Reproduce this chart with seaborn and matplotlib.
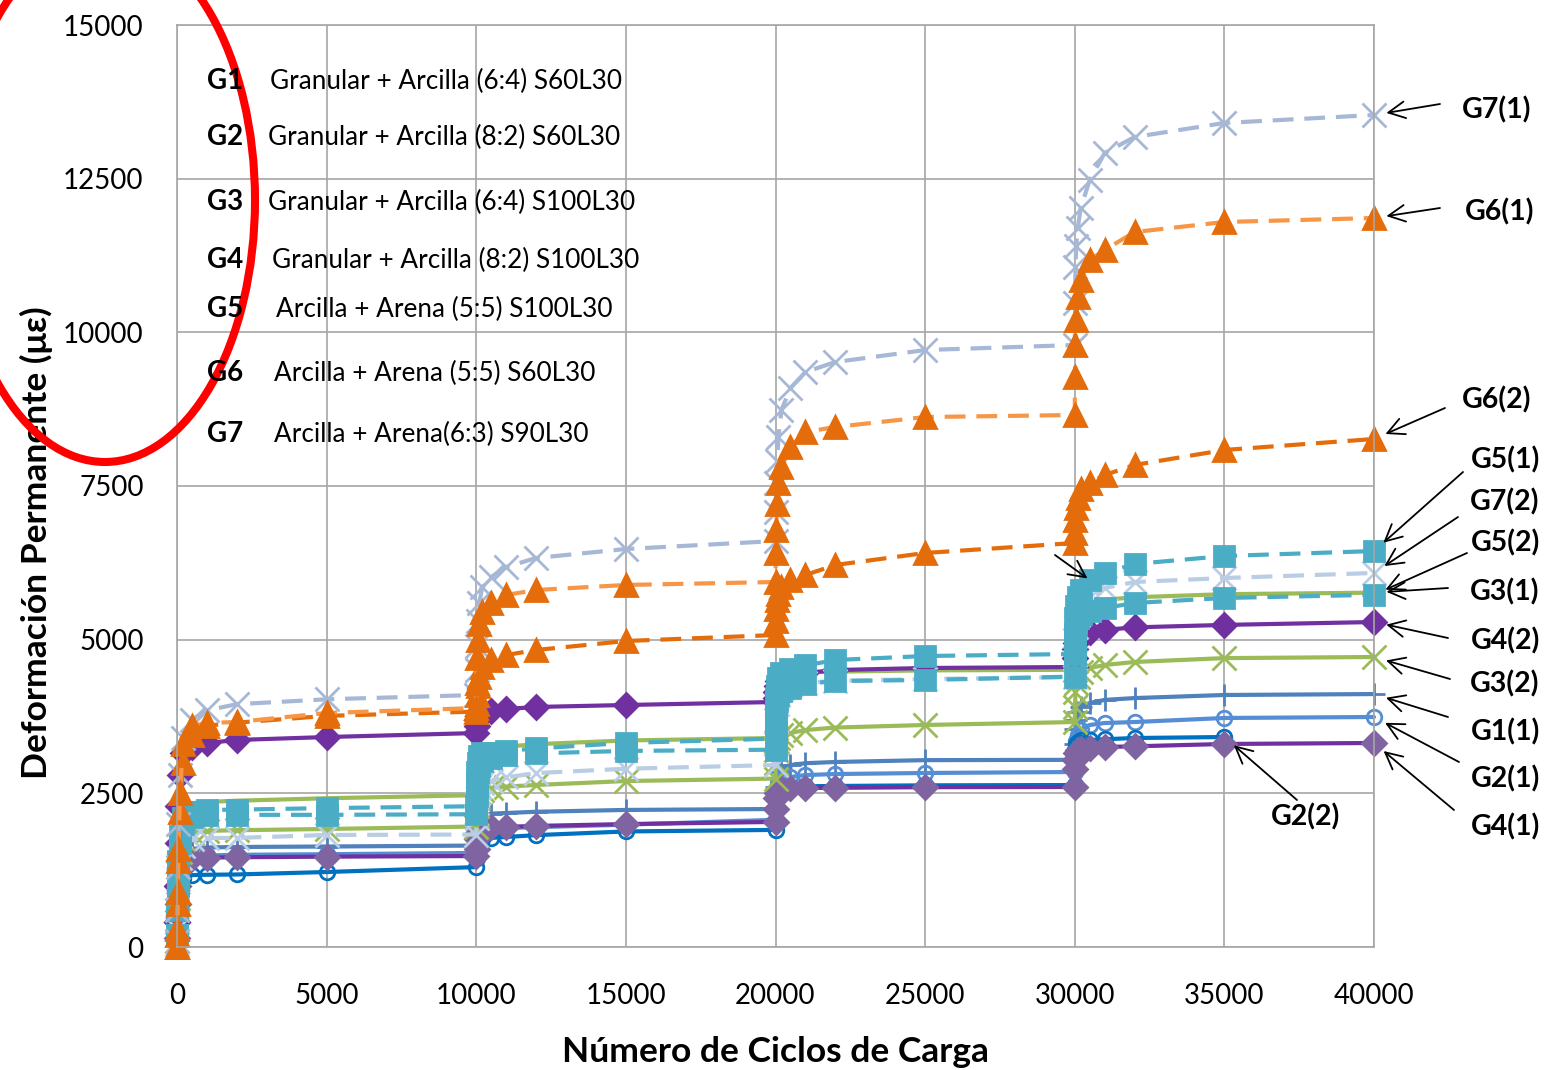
import numpy as np
import pandas as pd
import matplotlib
matplotlib.use("Agg")
import matplotlib.pyplot as plt
import seaborn as sns
from matplotlib.patches import Ellipse

nan = np.nan

# Load cycles at which each reading was taken (four stages of 10000 cycles)
cycles = [1, 10, 25, 50, 100, 200, 500, 1000, 2000, 5000, 10000,
          10010, 10025, 10050, 10100, 10200, 10500, 11000, 12000, 15000, 20000,
          20010, 20025, 20050, 20100, 20200, 20500, 21000, 22000, 25000, 30000,
          30010, 30025, 30050, 30100, 30200, 30500, 31000, 32000, 35000, 40000]

# Permanent deformation (microstrain) per test
g1_1 = [300, 700, 1000, 1250, 1420, 1530, 1590, 1620, 1627, 1635, 1650,
        1750, 1880, 1980, 2060, 2130, 2170, 2180, 2200, 2230, 2245,
        2400, 2600, 2750, 2850, 2920, 2960, 2990, 3010, 3040, 3045,
        3300, 3550, 3700, 3820, 3900, 3970, 4020, 4050, 4100, 4115]
g2_1 = [200, 500, 800, 1050, 1250, 1400, 1460, 1490, 1500, 1510, 1530,
        1620, 1720, 1800, 1860, 1900, 1920, 1935, 1950, 1990, 2070,
        2250, 2450, 2580, 2670, 2720, 2766, 2798, 2814, 2831, 2847,
        3000, 3200, 3350, 3450, 3530, 3612, 3644, 3660, 3726, 3742]
g2_2 = [100, 300, 550, 800, 1000, 1120, 1170, 1175, 1180, 1220, 1300,
        1450, 1600, 1680, 1730, 1760, 1775, 1790, 1820, 1880, 1905,
        2250, 2450, 2530, 2580, 2600, 2610, 2615, 2620, 2630, 2635,
        3000, 3200, 3300, 3340, 3360, 3368, 3380, 3400, 3416, nan]
g3_1 = [300, 800, 1300, 1800, 2150, 2300, 2340, 2360, 2380, 2420, 2470,
        2700, 2950, 3080, 3150, 3200, 3230, 3260, 3300, 3360, 3400,
        3900, 4200, 4330, 4400, 4430, 4450, 4470, 4480, 4500, 4510,
        5000, 5300, 5450, 5530, 5570, 5600, 5650, 5690, 5740, 5765]
g3_2 = [100, 400, 800, 1200, 1550, 1750, 1860, 1890, 1900, 1920, 1960,
        2150, 2300, 2420, 2500, 2560, 2590, 2610, 2636, 2700, 2740,
        3000, 3200, 3330, 3400, 3450, 3481, 3530, 3570, 3612, 3660,
        3900, 4150, 4300, 4400, 4480, 4539, 4588, 4637, 4700, 4718]
g4_1 = [150, 400, 700, 1000, 1250, 1380, 1440, 1455, 1460, 1470, 1480,
        1600, 1750, 1850, 1900, 1930, 1945, 1955, 1970, 2000, 2035,
        2250, 2420, 2500, 2550, 2570, 2580, 2587, 2590, 2600, 2603,
        2900, 3050, 3150, 3200, 3225, 3238, 3254, 3265, 3303, 3319]
g4_2 = [400, 1000, 1700, 2300, 2800, 3150, 3254, 3319, 3368, 3416, 3481,
        3600, 3700, 3760, 3800, 3820, 3840, 3872, 3905, 3937, 3986,
        4050, 4150, 4250, 4320, 4380, 4425, 4457, 4506, 4539, 4555,
        4700, 4850, 4950, 5020, 5080, 5130, 5160, 5200, 5240, 5287]
g5_1 = [200, 600, 1000, 1400, 1800, 2100, 2200, 2229, 2235, 2260, 2290,
        2600, 2850, 3000, 3100, 3150, 3150, 3190, 3230, 3320, 3390,
        3700, 4050, 4250, 4380, 4450, 4520, 4580, 4669, 4734, 4767,
        5000, 5350, 5550, 5700, 5800, 5970, 6085, 6231, 6361, 6442]
g5_2 = [200, 600, 1000, 1350, 1700, 2000, 2120, 2140, 2150, 2150, 2160,
        2450, 2700, 2850, 2950, 3020, 3080, 3120, 3150, 3190, 3210,
        3500, 3800, 4000, 4100, 4170, 4220, 4280, 4327, 4344, 4400,
        4800, 5100, 5250, 5350, 5420, 5470, 5515, 5597, 5678, 5730]
g6_1 = [0, 300, 900, 1600, 2500, 3300, 3600, 3644, 3661, 3807, 3888,
        4300, 4700, 5000, 5250, 5450, 5597, 5727, 5808, 5890, 5938,
        6410, 6784, 7200, 7550, 7809, 8134, 8379, 8460, 8622, 8655,
        9273, 9800, 10200, 10575, 10851, 11177, 11340, 11632, 11795, 11860]
g6_2 = [0, 200, 700, 1400, 2200, 3000, 3450, 3600, 3650, 3760, 3830,
        3950, 4100, 4250, 4400, 4550, 4669, 4750, 4832, 4978, 5076,
        5300, 5500, 5650, 5750, 5850, 5971, 6052, 6215, 6410, 6573,
        6735, 6950, 7150, 7300, 7450, 7549, 7679, 7842, 8086, 8265]
g7_1 = [100, 600, 1300, 2000, 2800, 3400, 3700, 3850, 3950, 4030, 4100,
        4500, 4900, 5300, 5600, 5850, 6020, 6182, 6329, 6475, 6605,
        7077, 7549, 7900, 8300, 8736, 9094, 9354, 9517, 9712, 9794,
        10477, 11063, 11400, 11700, 12023, 12478, 12917, 13178, 13406, 13536]
g7_2 = [50, 300, 700, 1100, 1450, 1650, 1750, 1773, 1775, 1822, 1830,
        2100, 2350, 2500, 2600, 2660, 2700, 2760, 2830, 2900, 2961,
        3300, 3700, 3950, 4100, 4200, 4260, 4300, 4330, 4360, 4390,
        4700, 5000, 5200, 5400, 5550, 5694, 5841, 5938, 6003, 6085]

group_codes = ["G1", "G2", "G3", "G4", "G5", "G6", "G7"]
group_desc = ["Granular + Arcilla (6:4) S60L30",
              "Granular + Arcilla (8:2) S60L30",
              "Granular + Arcilla (6:4) S100L30",
              "Granular + Arcilla (8:2) S100L30",
              "Arcilla + Arena (5:5) S100L30",
              "Arcilla + Arena (5:5) S60L30",
              "Arcilla + Arena(6:3) S90L30"]

W, H = 1546, 1070
sns.set_theme(style="whitegrid")
plt.rcParams["font.family"] = ["Lato", "DejaVu Sans"]

fig = plt.figure(figsize=(W / 100, H / 100), dpi=100)
ax = fig.add_axes([177 / W, 1 - 947 / H, (1374 - 177) / W, (947 - 25) / H])

DASH = (0, (5, 2.6))
# name, values, line colour, marker, marker face, marker edge, marker size, linestyle
series = [
    ("G1(1)", g1_1, "#4F81BD", "+", "#4F81BD", "#4F81BD", 16, "-"),
    ("G2(1)", g2_1, "#558ED5", "o", "none", "#558ED5", 10.5, "-"),
    ("G2(2)", g2_2, "#0070C0", "o", "none", "#0070C0", 10.5, "-"),
    ("G4(1)", g4_1, "#7030A0", "D", "#8064A2", "#8064A2", 12, "-"),
    ("G3(2)", g3_2, "#9BBB59", "x", "#9BBB59", "#9BBB59", 17, "-"),
    ("G3(1)", g3_1, "#9BBB59", "None", "#9BBB59", "#9BBB59", 1, "-"),
    ("G4(2)", g4_2, "#7030A0", "D", "#7030A0", "#7030A0", 12, "-"),
    ("G7(2)", g7_2, "#B9CDE5", "x", "#B9CDE5", "#B9CDE5", 17, DASH),
    ("G5(2)", g5_2, "#4BACC6", "s", "#4BACC6", "#4BACC6", 14.5, DASH),
    ("G5(1)", g5_1, "#4BACC6", "s", "#4BACC6", "#4BACC6", 14.5, DASH),
    ("G7(1)", g7_1, "#A6B8D6", "x", "#A6B8D6", "#A6B8D6", 17, DASH),
    ("G6(2)", g6_2, "#E46C0A", "^", "#E46C0A", "#E46C0A", 15.5, DASH),
    ("G6(1)", g6_1, "#F79646", "^", "#E46C0A", "#E46C0A", 15.5, DASH),
]

for name, vals, col, mk, mfc, mec, ms, ls in series:
    df = pd.DataFrame({"ciclos": cycles, "def": vals}).dropna()
    sns.lineplot(data=df, x="ciclos", y="def", ax=ax, color=col,
                 linewidth=3.0, linestyle=ls, marker=mk, markersize=ms,
                 markerfacecolor=mfc, markeredgecolor=mec,
                 markeredgewidth=2.0, sort=False, estimator=None,
                 errorbar=None, clip_on=False)

ax.set_xlim(0, 40000)
ax.set_ylim(0, 15000)
ax.set_xticks(np.arange(0, 40001, 5000))
ax.set_yticks(np.arange(0, 15001, 2500))
ax.grid(True, color="#A6A6A6", linewidth=1.2)
for sp in ax.spines.values():
    sp.set_color("#A6A6A6")
    sp.set_linewidth(1.2)
ax.tick_params(axis="both", length=0, labelsize=20, colors="black")
ax.tick_params(axis="y", pad=24)
ax.tick_params(axis="x", pad=26)

ax.set_xlabel("Número de Ciclos de Carga", fontsize=25.5, fontweight="bold",
              color="black")
ax.xaxis.set_label_coords(0.5, -0.097)
ax.set_ylabel("Deformación Permanente (με)", fontsize=25.5, fontweight="bold",
              color="black")
ax.yaxis.set_label_coords(-0.104, 0.438)


def fpx(x, y):
    return x / W, 1 - y / H


# Group descriptions inside the plot
rows_y = [81, 137, 202, 260, 309, 373, 434]
desc_x = [270, 268, 268, 272, 276, 274, 274]
for code, desc, ry, dx in zip(group_codes, group_desc, rows_y, desc_x):
    fig.text(*fpx(207, ry), code, fontsize=20, fontweight="bold",
             ha="left", va="center", color="black")
    fig.text(*fpx(dx, ry), desc, fontsize=18.8, ha="left", va="center",
             color="black")

# Curve labels with arrows
ends = {name: vals for name, vals, *_ in series}
labels = [
    ("G7(1)", (1497, 110), (1440, 104), 40000),
    ("G6(1)", (1500, 212), (1440, 208), 40000),
    ("G6(2)", (1497, 400), (1445, 408), 40000),
    ("G5(1)", (1505, 460), (1463, 472), 40000),
    ("G7(2)", (1505, 502), (1458, 517), 40000),
    ("G5(2)", (1505, 543), (1467, 553), 40000),
    ("G3(1)", (1505, 592), (1448, 588), 40000),
    ("G4(2)", (1505, 641), (1448, 638), 40000),
    ("G3(2)", (1505, 684), (1450, 679), 40000),
    ("G1(1)", (1505, 732), (1448, 717), 40000),
    ("G2(1)", (1505, 779), (1459, 762), 40000),
    ("G4(1)", (1505, 827), (1454, 810), 40000),
    ("G2(2)", (1305, 817), (1297, 800), 35000),
]
arrow_kw = dict(arrowstyle="->,head_length=0.6,head_width=0.3", color="black",
                lw=1.3, shrinkA=0, shrinkB=9, mutation_scale=20)
for name, tpos, tail, xc in labels:
    yv = ends[name][cycles.index(xc)]
    fig.text(*fpx(*tpos), name, fontsize=20.5, fontweight="bold",
             ha="center", va="center", color="black")
    ax.annotate("", xy=(xc, yv), xycoords="data",
                xytext=(tail[0], H - tail[1]), textcoords="figure pixels",
                arrowprops=arrow_kw, annotation_clip=False)

# Unlabelled arrow at the start of the fourth stage
ax.annotate("", xy=(30500, g5_1[cycles.index(30500)]), xycoords="data",
            xytext=(1055, H - 555), textcoords="figure pixels",
            arrowprops=dict(arrow_kw, shrinkB=2), annotation_clip=False)

# Red highlight ellipse over the group codes
over = fig.add_axes([0, 0, 1, 1], facecolor="none")
over.set_xlim(0, W)
over.set_ylim(H, 0)
over.axis("off")
over.add_patch(Ellipse((105, 200), 300, 524, fill=False, edgecolor="#FF0000",
                       linewidth=5.8))

fig.savefig("out.png", dpi=100)
